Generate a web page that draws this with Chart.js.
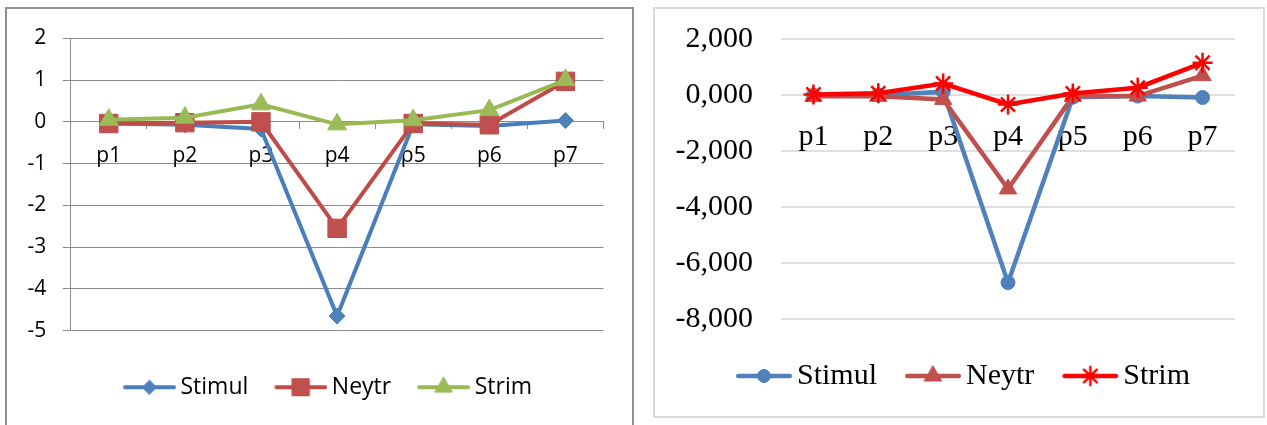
<!DOCTYPE html>
<html>
<head>
<meta charset="utf-8">
<script src="https://cdn.jsdelivr.net/npm/chart.js@4.4.1/dist/chart.umd.min.js"></script>
<style>
  body { margin: 0; background: #fff; width: 1267px; height: 425px; overflow: hidden; position: relative; }
  .frame { position: absolute; box-sizing: border-box; }
  #frameA { left: 5px; top: 7px; width: 629px; height: 440px; border: 2px solid #8f8f8f; }
  #frameB { left: 653px; top: 7px; width: 612px; height: 411px; border: 2px solid #d9d9d9; }
  canvas { position: absolute; }
  #chartA { left: 8px; top: 9px; }
  #chartB { left: 656px; top: 10px; }
</style>
</head>
<body>
<div class="frame" id="frameA"></div>
<div class="frame" id="frameB"></div>
<canvas id="chartA" width="623" height="416"></canvas>
<canvas id="chartB" width="606" height="405"></canvas>
<script>
// ── Data ──────────────────────────────────────────────────────────────────────

const CATEGORIES = ['p1', 'p2', 'p3', 'p4', 'p5', 'p6', 'p7'];
const SERIES_NAMES = ['Stimul', 'Neytr', 'Strim'];

// left panel
const stimulLeft = [-0.04, -0.07, -0.17, -4.65, -0.06, -0.10, 0.03];
const neytrLeft  = [-0.04, -0.02, 0.00, -2.55, -0.04, -0.07, 0.97];
const strimLeft  = [0.05, 0.10, 0.42, -0.06, 0.04, 0.28, 1.00];
const leftTicks  = { min: -5, max: 2, step: 1 };

// right panel
const stimulRight = [0.00, 0.01, 0.12, -6.70, -0.07, -0.03, -0.08];
const neytrRight  = [-0.04, -0.04, -0.15, -3.35, -0.04, -0.03, 0.70];
const strimRight  = [0.03, 0.07, 0.42, -0.33, 0.06, 0.27, 1.16];
const rightTicks  = { min: -8, max: 2, step: 2 };

// ── Styles ────────────────────────────────────────────────────────────────────

const LEFT_STYLE = [
  { color: '#4A7EBB', fill: '#4F81BD', point: 'rectRot', radius: 8, legendRadius: 7, borderWidth: 1 },
  { color: '#BE4B48', fill: '#C0504D', point: 'rect', radius: 13, legendRadius: 12, borderWidth: 1 },
  { color: '#98B954', fill: '#9BBB59', point: 'triangle', radius: 11, legendRadius: 10, borderWidth: 1 },
];
const RIGHT_STYLE = [
  { color: '#4F81BD', fill: '#4F81BD', point: 'circle', radius: 7, legendRadius: 6.5, borderWidth: 1 },
  { color: '#C0504D', fill: '#C0504D', point: 'triangle', radius: 10, legendRadius: 10, borderWidth: 1 },
  { color: '#FF0000', fill: '#FF0000', point: 'star', radius: 10, legendRadius: 9, borderWidth: 2.5 },
];

// Legend swatch: a line with the marker on it, drawn into a small canvas.
// The image is wider than the legend box so the line can start at the box edge.
function legendIcon(st, lineWidth, lineLen, boxW) {
  const w = Math.round(2 * (lineLen - boxW / 2));
  const h = 32;
  const c = document.createElement('canvas');
  c.width = w; c.height = h;
  const ctx = c.getContext('2d');
  const x0 = w / 2 - boxW / 2;
  ctx.strokeStyle = st.color;
  ctx.lineWidth = lineWidth;
  ctx.lineCap = 'round';
  ctx.beginPath();
  ctx.moveTo(x0 + lineWidth / 2, h / 2);
  ctx.lineTo(x0 + lineLen - lineWidth / 2, h / 2);
  ctx.stroke();
  ctx.fillStyle = st.fill;
  ctx.lineWidth = st.borderWidth;
  Chart.helpers.drawPoint(ctx, {
    pointStyle: st.point, radius: st.legendRadius, borderWidth: st.borderWidth, rotation: 0,
  }, x0 + lineLen / 2, h / 2);
  return c;
}

// Moves the legend box after layout, so the plot area keeps its own size.
const legendOffset = {
  id: 'legendOffset',
  afterLayout(chart, args, opts) {
    const lg = chart.legend;
    if (!lg) return;
    lg.left += opts.x; lg.right += opts.x;
    lg.top += opts.y; lg.bottom += opts.y;
  },
};

function makeDataset(label, data, st, lineWidth, order) {
  return {
    label, data, order,
    borderColor: st.color,
    borderWidth: lineWidth,
    pointStyle: st.point,
    pointRadius: st.radius,
    pointBackgroundColor: st.fill,
    pointBorderColor: st.color,
    pointBorderWidth: st.borderWidth,
    tension: 0,
    fill: false,
  };
}

// ── Create ────────────────────────────────────────────────────────────────────

function createPanel(canvasId, cfg) {
  const icons = cfg.styles.map(st => legendIcon(st, cfg.lineWidth, cfg.legendLine, cfg.legendBox));
  const datasets = cfg.series.map((vals, i) =>
    makeDataset(SERIES_NAMES[i], vals, cfg.styles[i], cfg.lineWidth, 3 - i));

  return new Chart(document.getElementById(canvasId), {
    type: 'line',
    data: { labels: CATEGORIES, datasets },
    plugins: [legendOffset],
    options: {
      responsive: false,
      animation: false,
      events: [],
      layout: { padding: cfg.padding },
      plugins: {
        tooltip: { enabled: false },
        legendOffset: cfg.legendShift,
        legend: {
          position: 'bottom',
          labels: {
            usePointStyle: true,
            pointStyleWidth: cfg.legendBox,
            padding: cfg.legendGap,
            color: '#000',
            font: { family: cfg.font, size: cfg.legendSize },
            generateLabels: chart => chart.data.datasets.map((ds, i) => ({
              text: ds.label,
              datasetIndex: i,
              pointStyle: icons[i],
              fontColor: '#000',
              fillStyle: 'transparent',
              strokeStyle: 'transparent',
              lineWidth: 0,
              hidden: false,
            })),
          },
        },
      },
      scales: {
        x: {
          type: 'category',
          position: { y: 0 },
          offset: true,
          grid: {
            display: cfg.xTicks,
            drawOnChartArea: false,
            drawTicks: cfg.xTicks,
            tickLength: 7,
            offset: true,
            color: cfg.gridColor,
          },
          border: { display: cfg.xBorder, color: cfg.gridColor, width: 1 },
          ticks: {
            color: '#000',
            padding: cfg.xPad,
            maxRotation: 0,
            autoSkip: false,
            font: { family: cfg.font, size: cfg.tickSize },
          },
        },
        y: {
          min: cfg.ticks.min,
          max: cfg.ticks.max,
          afterFit: s => { s.width = cfg.yWidth; },
          grid: {
            color: cfg.gridColor,
            lineWidth: cfg.gridWidth,
            drawTicks: true,
            tickLength: cfg.yTickLen,
            tickColor: cfg.yTickColor,
          },
          border: { display: cfg.yBorder, color: cfg.gridColor, width: 1 },
          ticks: {
            stepSize: cfg.ticks.step,
            color: '#000',
            padding: cfg.yPad,
            font: { family: cfg.font, size: cfg.tickSize },
            callback: cfg.format,
          },
        },
      },
    },
  });
}

createPanel('chartA', {
  series: [stimulLeft, neytrLeft, strimLeft],
  styles: LEFT_STYLE,
  ticks: leftTicks,
  font: '"Open Sans", "Noto Sans", sans-serif',
  tickSize: 21,
  legendSize: 23,
  lineWidth: 4,
  legendLine: 53,
  legendBox: 46,
  legendGap: 26,
  legendShift: { x: 21.75, y: 19 },
  padding: { left: 0, right: 27.5, top: 29.3, bottom: 35.3 },
  yWidth: 62.7,
  yTickLen: 8,
  yTickColor: '#8c8c8c',
  yPad: 16.5,
  xPad: 15,
  gridColor: '#8c8c8c',
  gridWidth: 1,
  xTicks: true,
  xBorder: true,
  yBorder: true,
  format: v => String(v),
});

createPanel('chartB', {
  series: [stimulRight, neytrRight, strimRight],
  styles: RIGHT_STYLE,
  ticks: rightTicks,
  font: '"Liberation Serif", "Times New Roman", serif',
  tickSize: 30,
  legendSize: 30,
  lineWidth: 4.5,
  legendLine: 56,
  legendBox: 46,
  legendGap: 28,
  legendShift: { x: 17.5, y: 14 },
  padding: { left: 0, right: 27, top: 29.3, bottom: 28 },
  yWidth: 125,
  // invisible tick marks carry the gap between labels and plot
  yTickLen: 28,
  yTickColor: 'rgba(0,0,0,0)',
  yPad: 0,
  xPad: 23.7,
  gridColor: '#e0e0e0',
  gridWidth: 2,
  xTicks: false,
  xBorder: false,
  yBorder: false,
  format: v => v.toFixed(3).replace('.', ','),
});
</script>
</body>
</html>
